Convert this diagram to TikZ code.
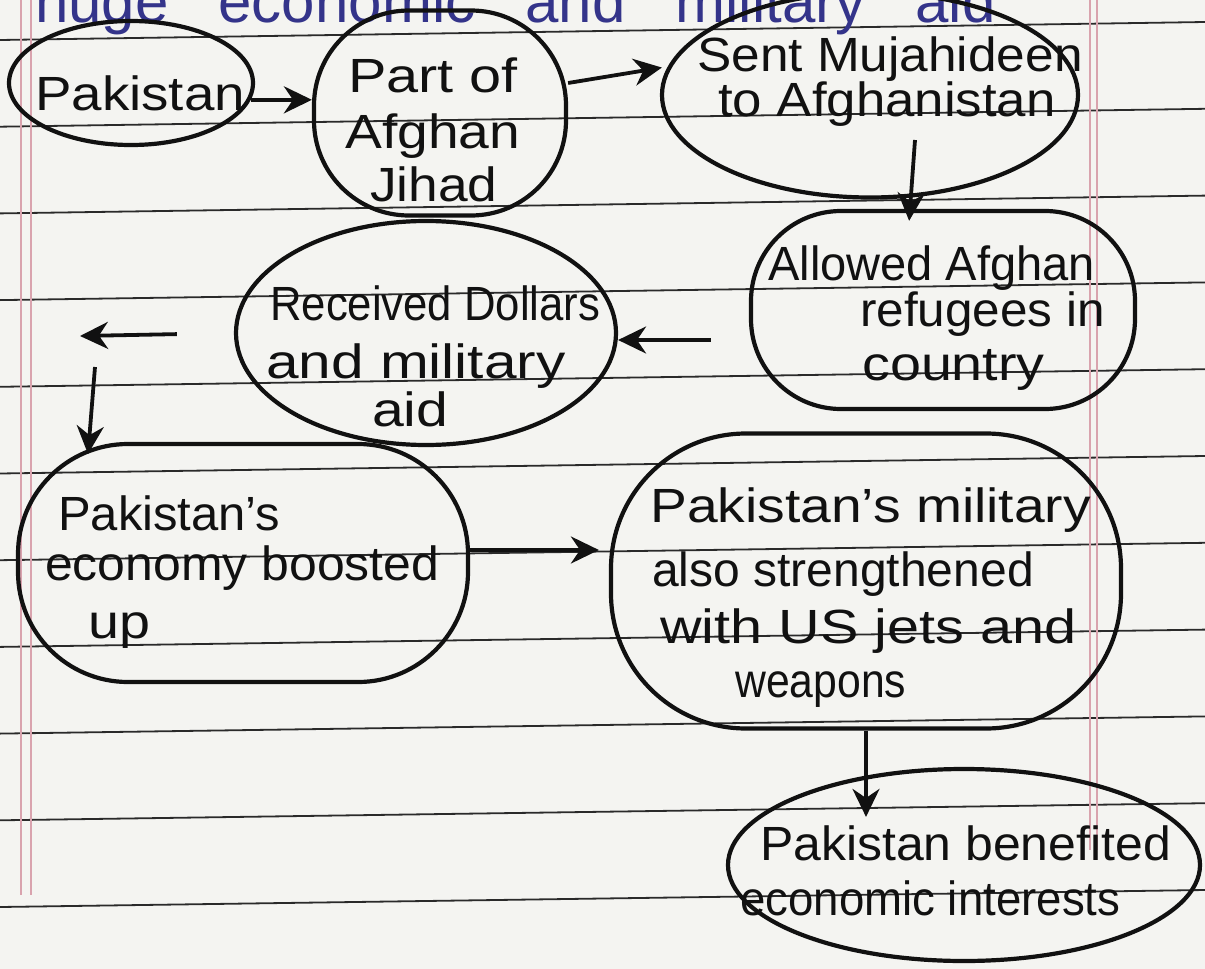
\documentclass[tikz,border=0pt]{standalone}
\usepackage{fontspec}
\usepackage{graphicx}
\setmainfont{Liberation Sans}
\usetikzlibrary{arrows.meta,shapes.geometric}
\definecolor{paper}{HTML}{F4F4F1}
\definecolor{rulec}{HTML}{2A2A2A}
\definecolor{marginc}{HTML}{D9A3AE}
\definecolor{ink}{HTML}{111111}
\definecolor{blueink}{HTML}{34348A}
\newcommand{\hsx}[2]{\scalebox{#1}[1]{#2}}
\begin{document}
\begin{tikzpicture}[x=1pt,y=-1pt,
  oval/.style={draw=ink, line width=4.2pt, ellipse, inner sep=0pt},
  blob/.style={draw=ink, line width=4.2pt, rectangle, inner sep=0pt},
  hw/.style={anchor=base west, inner sep=0pt, text=ink, font=\fontsize{48}{48}\selectfont},
  arr/.style={draw=ink, line width=3.8pt, -{Stealth[length=28pt,width=27pt]}},
  ruling/.style={draw=rulec, line width=1.8pt},
  marg/.style={draw=marginc, line width=1.4pt}
]
\useasboundingbox (0,0) rectangle (1205,969);
\fill[paper] (0,0) rectangle (1205,969);
% ruled paper
\foreach \k in {0,...,10} \draw[ruling] (0,{40+86.7*\k}) -- (1205,{22+86.8*\k});
\draw[marg] (21,0) -- (21,895) (31,0) -- (31,895);
\draw[marg] (1090,0) -- (1090,850) (1097,0) -- (1097,850);
% heading (cut off at top, as in the page)
\node[anchor=base west, inner sep=0pt, text=blueink, font=\fontsize{60}{60}\selectfont] (head) at (35,23) {\spaceskip=50pt huge economic and military aid};
% bubbles
\node[oval, minimum width=244pt, minimum height=124pt] (pak) at (131,83) {};
\node[blob, rounded corners=95pt, minimum width=252pt, minimum height=205pt] (part) at (440,113) {};
\node[oval, minimum width=416pt, minimum height=205pt] (sent) at (870,95) {};
\node[blob, rounded corners=90pt, minimum width=384pt, minimum height=198pt] (allow) at (943,310) {};
\node[oval, minimum width=380pt, minimum height=224pt] (rec) at (426,333) {};
\node[blob, rounded corners=110pt, minimum width=450pt, minimum height=238pt] (eco) at (243,563) {};
\node[blob, rounded corners=135pt, minimum width=510pt, minimum height=295pt] (mil) at (866,581) {};
\node[oval, minimum width=472pt, minimum height=192pt] (ben) at (964,865) {};
% texts
\node[hw] (t1) at (35,110) {\hsx{1.14}{Pakistan}};
\node[hw] (t2a) at (348,92) {\hsx{1.2}{Part of}};
\node[hw] (t2b) at (345,148) {\hsx{1.15}{Afghan}};
\node[hw] (t2c) at (370,201) {\hsx{1.11}{Jihad}};
\node[hw] (t3a) at (697,71) {\hsx{1.07}{Sent Mujahideen}};
\node[hw] (t3b) at (718,116) {\hsx{1.1}{to Afghanistan}};
\node[hw] (t4a) at (768,280) {\hsx{0.98}{Allowed Afghan}};
\node[hw] (t4b) at (860,326) {\hsx{1.03}{refugees in}};
\node[hw] (t4c) at (862,380) {\hsx{1.16}{country}};
\node[hw] (t5a) at (270,320) {\hsx{0.91}{Received Dollars}};
\node[hw] (t5b) at (266,378) {\hsx{1.22}{and military}};
\node[hw] (t5c) at (372,426) {\hsx{1.19}{aid}};
\node[hw] (t6a) at (58,530) {\hsx{1.02}{Pakistan's}};
\node[hw] (t6b) at (45,580) {\hsx{1.04}{economy boosted}};
\node[hw] (t6c) at (88,638) {\hsx{1.16}{up}};
\node[hw] (t7a) at (650,522) {\hsx{1.15}{Pakistan's military}};
\node[hw] (t7b) at (652,586) {\hsx{1.0}{also strengthened}};
\node[hw] (t7c) at (660,643) {\hsx{1.2}{with US jets and}};
\node[hw] (t7d) at (735,697) {\hsx{0.89}{weapons}};
\node[hw] (t8a) at (760,860) {\hsx{1.04}{Pakistan benefited}};
\node[hw] (t8b) at (740,915) {\hsx{0.95}{economic interests}};
% connectors
\draw[arr] (pak.352) -- (pak.352 -| part.west);
\draw[arr, shorten >=6pt] ([yshift=30pt]part.east) -- (sent.172);
\draw[arr, shorten >=-12pt] ([xshift=45pt,yshift=-45pt]sent.center) -- ([xshift=40pt]sent.center |- allow.north);
\draw[arr, shorten <=38pt] ([yshift=-30pt]allow.west) -- ([yshift=-30pt]allow.west -| rec.east);
\coordinate (lt) at (80,336);
\draw[arr, shorten <=57pt] (rec.west) -- (lt);
\coordinate (dt) at (95,367);
\coordinate (db) at (88,454);
\draw[arr] (dt) -- (db);
\draw[arr, shorten >=10pt] ([yshift=13pt]eco.east) -- ([yshift=13pt]eco.east -| mil.west);
\draw[arr, shorten >=-50pt] (mil.south) -- (mil.south |- ben.north);
\end{tikzpicture}
\end{document}
